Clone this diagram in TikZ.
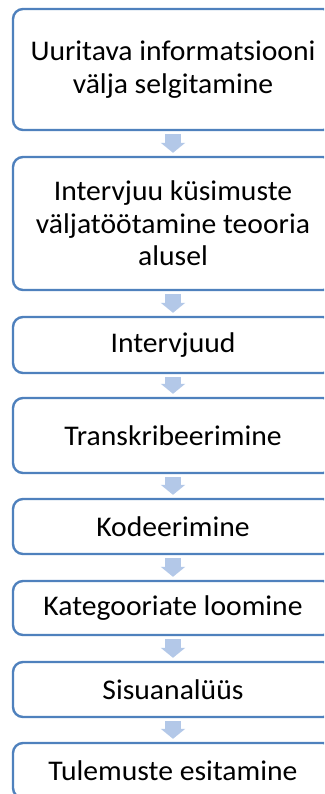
\documentclass[tikz,border=0pt]{standalone}
\usepackage{fontspec}
\setmainfont[FakeStretch=1.04]{Carlito}
\usetikzlibrary{arrows.meta}
\definecolor{boxline}{HTML}{4F81BD}
\definecolor{arrowfill}{HTML}{B3C8E8}
\begin{document}
\begin{tikzpicture}[x=1pt,y=-1pt,
  stepbox/.style={draw=boxline, line width=2.4pt, rounded corners=10pt, fill=white,
    minimum width=320pt, align=center, inner sep=0pt,
    font=\fontsize{28.5}{32.5}\selectfont},
  flowarrow/.style={draw=arrowfill, line width=16pt, line cap=butt,
    -{Triangle[width=24pt,length=10pt,fill=arrowfill]},
    shorten <=3pt, shorten >=3pt}]
  \useasboundingbox (0,0) rectangle (324,794);
  \clip (0,0) rectangle (324,794);
  % process steps, top to bottom
  \node[stepbox, minimum height=121pt] (s1) at (173,69.5)
    {Uuritava informatsiooni\\välja selgitamine};
  \node[stepbox, minimum height=133pt] (s2) at (173,223.5)
    {Intervjuu küsimuste\\väljatöötamine teooria\\alusel};
  \node[stepbox, minimum height=56pt] (s3) at (173,345)
    {Intervjuud};
  \node[stepbox, minimum height=75pt] (s4) at (173,435.5)
    {Transkribeerimine};
  \node[stepbox, minimum height=55pt] (s5) at (173,526.5)
    {Kodeerimine};
  \node[stepbox, minimum height=54pt] (s6) at (173,608)
    {Kategooriate loomine};
  \node[stepbox, minimum height=55pt] (s7) at (173,689.5)
    {Sisuanalüüs};
  \node[stepbox, minimum height=55pt] (s8) at (173,770.5)
    {Tulemuste esitamine};
  % block arrows between consecutive steps
  \foreach \a/\b in {s1/s2,s2/s3,s3/s4,s4/s5,s5/s6,s6/s7,s7/s8}
    \draw[flowarrow] (\a.south) -- (\b.north);
\end{tikzpicture}
\end{document}
